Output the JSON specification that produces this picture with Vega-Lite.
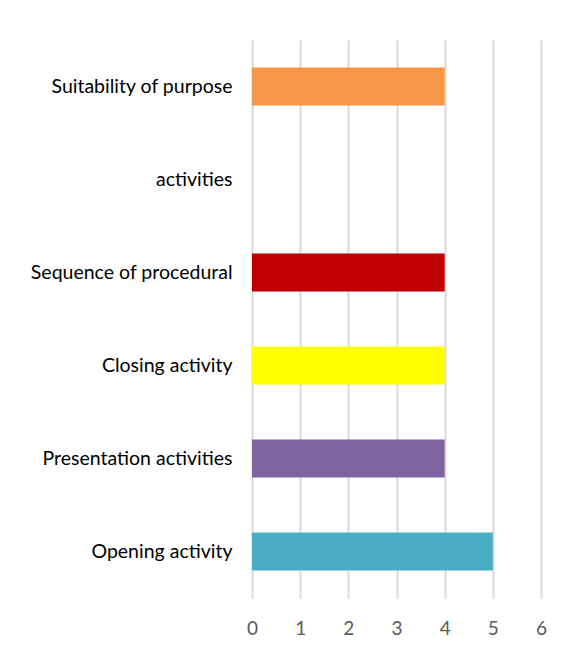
{
  "$schema": "https://vega.github.io/schema/vega-lite/v6.json",
  "autosize": {"type": "none"},
  "padding": {"left": 252, "top": 40, "right": 32, "bottom": 53},
  "width": 289,
  "height": 558,
  "background": "white",
  "config": {"view": {"stroke": null}, "font": "Lato"},
  "data": {
    "values": [
      {"category": "Suitability of purpose", "value": 4, "color": "#F79646"},
      {"category": "activities", "value": 0, "color": "#FFFFFF"},
      {"category": "Sequence of procedural", "value": 4, "color": "#C00000"},
      {"category": "Closing activity", "value": 4, "color": "#FFFF00"},
      {"category": "Presentation activities", "value": 4, "color": "#8064A2"},
      {"category": "Opening activity", "value": 5, "color": "#4BACC6"}
    ]
  },
  "mark": {"type": "bar"},
  "encoding": {
    "y": {
      "field": "category",
      "type": "nominal",
      "sort": null,
      "scale": {"paddingInner": 0.59, "paddingOuter": 0.295},
      "axis": {
        "title": null,
        "domain": false,
        "ticks": false,
        "labelPadding": 20,
        "labelFontSize": 19.5,
        "labelColor": "#000000",
        "labelFont": "Lato",
        "labelLimit": 300,
        "labelOverlap": false
      }
    },
    "x": {
      "field": "value",
      "type": "quantitative",
      "scale": {"domain": [0, 6], "nice": false},
      "axis": {
        "title": null,
        "domain": false,
        "ticks": false,
        "values": [0, 1, 2, 3, 4, 5, 6],
        "grid": true,
        "gridColor": "#D9D9D9",
        "gridWidth": 2,
        "labelPadding": 21,
        "labelFontSize": 19,
        "labelColor": "#595959",
        "labelFont": "Lato",
        "labelOverlap": false,
        "labelFlush": false,
        "labelBound": false
      }
    },
    "color": {"field": "color", "type": "nominal", "scale": null, "legend": null}
  }
}
